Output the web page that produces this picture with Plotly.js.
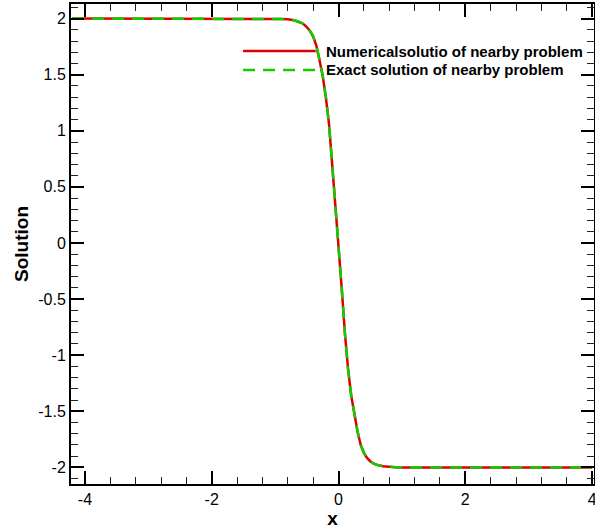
<!DOCTYPE html>
<html>
<head>
<meta charset="utf-8">
<script src="https://cdn.plot.ly/plotly-3.0.1.min.js"></script>
<style>
  html, body { margin: 0; padding: 0; background: #fff; }
  #chart { width: 595px; height: 529px; }
</style>
</head>
<body>
<div id="chart"></div>
<script>
// x positions of the sampled solution
const xValues = [-4.2, -3.0, -2.0, -1.5, -1.2, -1.0, -0.9, -0.8, -0.7, -0.6, -0.55, -0.5, -0.45, -0.4, -0.35, -0.3, -0.25, -0.2, -0.15, -0.1, -0.05, 0.0, 0.05, 0.1, 0.15, 0.2, 0.25, 0.3, 0.35, 0.4, 0.45, 0.5, 0.55, 0.6, 0.7, 0.8, 0.9, 1.0, 1.5, 2.0, 3.0, 4.0];
// numerical solution
const numericalValues = [2.0, 2.0, 2.0, 2.0, 1.999, 1.998, 1.996, 1.993, 1.985, 1.965, 1.95, 1.925, 1.89, 1.84, 1.76, 1.63, 1.49, 1.30, 1.06, 0.70, 0.35, -0.02, -0.40, -0.80, -1.12, -1.36, -1.54, -1.68, -1.80, -1.87, -1.915, -1.945, -1.965, -1.977, -1.99, -1.996, -1.998, -2.0, -2.0, -2.0, -2.0, -2.0];
// exact solution (coincides with the numerical one in the picture)
const exactValues = [2.0, 2.0, 2.0, 2.0, 1.999, 1.998, 1.996, 1.993, 1.985, 1.965, 1.95, 1.925, 1.89, 1.84, 1.76, 1.63, 1.49, 1.30, 1.06, 0.70, 0.35, -0.02, -0.40, -0.80, -1.12, -1.36, -1.54, -1.68, -1.80, -1.87, -1.915, -1.945, -1.965, -1.977, -1.99, -1.996, -1.998, -2.0, -2.0, -2.0, -2.0, -2.0];

const seriesNames = ["Numericalsolutio of nearby problem", "Exact solution of nearby problem"];

const xTickVals = [-4, -2, 0, 2, 4];
const xTickText = ["-4", "-2", "0", "2", "4"];
const yTickVals = [2, 1.5, 1, 0.5, 0, -0.5, -1, -1.5, -2];
const yTickText = ["2", "1.5", "1", "0.5", "0", "-0.5", "-1", "-1.5", "-2"];

const RED = "#dd0000";
const GREEN = "#11cc00";
const FONT = "Liberation Sans, Arial, sans-serif";

const traces = [
  { x: xValues, y: numericalValues, name: seriesNames[0], type: "scatter", mode: "lines",
    line: { color: RED, width: 2.5 }, showlegend: false },
  { x: xValues, y: exactValues, name: seriesNames[1], type: "scatter", mode: "lines",
    line: { color: GREEN, width: 2.5, dash: "12px,8px" }, showlegend: false }
];

// manual legend (long sample lines as in the reference)
const legendY = [0.902, 0.8625];
const legendStyles = [{ color: RED, width: 2.5, dash: "solid" }, { color: GREEN, width: 2.5, dash: "12px,8px" }];
const shapes = legendY.map((yy, i) => ({
  type: "line", xref: "paper", yref: "paper", x0: 0.329, x1: 0.468, y0: yy, y1: yy,
  line: legendStyles[i]
}));
const annotations = legendY.map((yy, i) => ({
  xref: "paper", yref: "paper", x: 0.484, y: yy, xanchor: "left", yanchor: "middle",
  text: "<b>" + seriesNames[i] + "</b>", showarrow: false,
  font: { family: FONT, size: 15, color: "#000" }
}));

const axisCommon = {
  showline: true, linecolor: "#000", linewidth: 2, mirror: "allticks",
  ticks: "inside", ticklen: 13, tickwidth: 2, tickcolor: "#000",
  showgrid: false, zeroline: false,
  tickfont: { family: FONT, size: 16, color: "#000" },
  tickmode: "array",
  ticklabeloverflow: "allow"
};

const layout = {
  width: 595, height: 529,
  margin: { l: 71, r: 1, t: 4, b: 45 },
  paper_bgcolor: "#fff", plot_bgcolor: "#fff",
  showlegend: false,
  xaxis: Object.assign({}, axisCommon, {
    range: [-4.22, 4.03],
    tickvals: xTickVals, ticktext: xTickText,
    minor: { ticks: "inside", ticklen: 7, tickwidth: 1, tickcolor: "#222", dtick: 0.4, tick0: 0, showgrid: false },
    title: { text: "<b>x</b>", font: { family: FONT, size: 19, color: "#000" }, standoff: 3 }
  }),
  yaxis: Object.assign({}, axisCommon, {
    range: [-2.148, 2.13],
    tickvals: yTickVals, ticktext: yTickText,
    minor: { ticks: "inside", ticklen: 7, tickwidth: 1, tickcolor: "#222", dtick: 0.1, tick0: 0, showgrid: false },
    title: { text: "<b>Solution</b>", font: { family: FONT, size: 19, color: "#000" }, standoff: 5 }
  }),
  shapes: shapes,
  annotations: annotations
};

Plotly.newPlot("chart", traces, layout, { displayModeBar: false, staticPlot: true });
</script>
</body>
</html>
